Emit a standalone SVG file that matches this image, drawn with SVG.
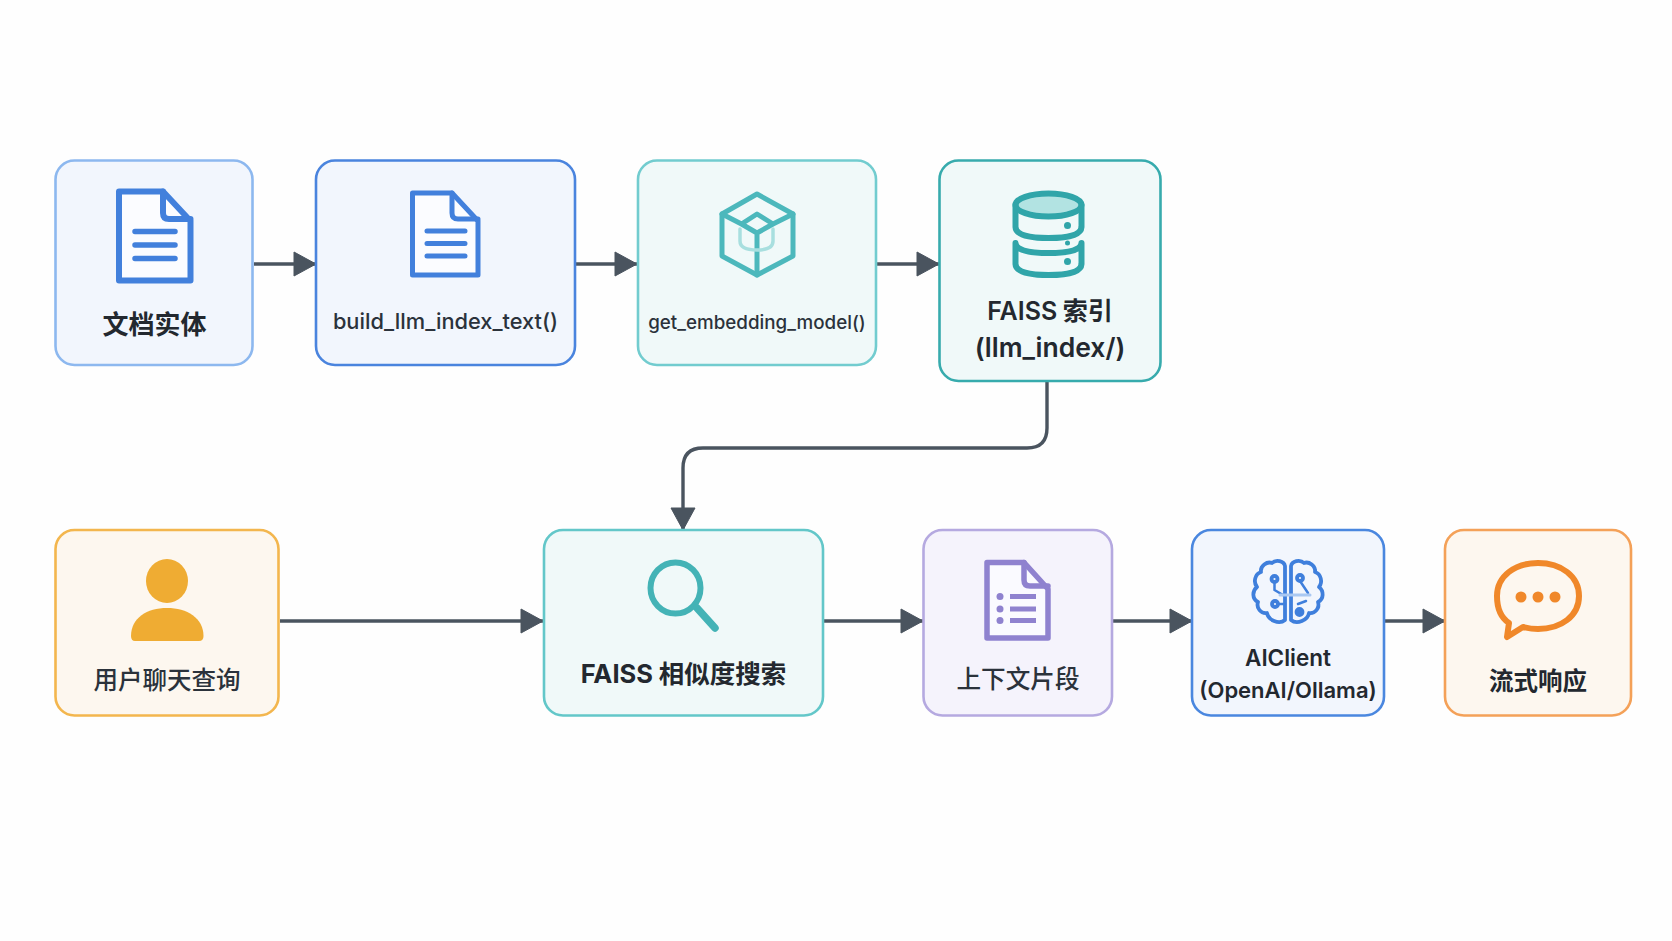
<svg xmlns="http://www.w3.org/2000/svg" width="1672" height="941" viewBox="0 0 1672 941">
<style>
.box{stroke-width:2.6}
.blue{fill:#f2f6fd}.teal{fill:#f0f9f9}.orange{fill:#fdf7ef}.purple{fill:#f5f3fc}
text{font-family:"Inter","Noto Sans CJK SC",sans-serif;text-anchor:middle;fill:#2b323b;font-weight:500}
.s{font-weight:600;fill:#23282f}
.b{font-weight:700;fill:#23282f}
.cj{font-family:"Noto Sans CJK SC",sans-serif}
.lat{font-family:"Inter",sans-serif}
.conn{fill:none;stroke:#4a545f;stroke-width:3.4}
.ico{fill:none;stroke-linejoin:round;stroke-linecap:round}
</style>
<defs>
<marker id="ah" markerUnits="userSpaceOnUse" markerWidth="24" markerHeight="26" viewBox="0 0 24 26" refX="23" refY="13" orient="auto"><path d="M1 1L23 13L1 25Z" fill="#4a545f" stroke="#4a545f" stroke-width="1" stroke-linejoin="round"/></marker>
</defs>
<rect width="1672" height="941" fill="#fefefe"/>
<g id="connectors">
<path class="conn" marker-end="url(#ah)" d="M254 264H316"/>
<path class="conn" marker-end="url(#ah)" d="M576 264H637"/>
<path class="conn" marker-end="url(#ah)" d="M877 264H939"/>
<path class="conn" marker-end="url(#ah)" d="M1047 381V428Q1047 448 1027 448H703Q683 448 683 468V530"/>
<path class="conn" marker-end="url(#ah)" d="M280 621H543"/>
<path class="conn" marker-end="url(#ah)" d="M824 621H923"/>
<path class="conn" marker-end="url(#ah)" d="M1113 621H1192"/>
<path class="conn" marker-end="url(#ah)" d="M1385 621H1445"/>
</g>
<g id="node-doc-entity">
<rect class="box blue" x="55.500" y="160.500" width="197" height="204.500" rx="19" stroke="#8db8ef"/>
<g class="ico" stroke="#4280dc" stroke-width="6">
<path d="M119 191.500H163L190.500 221V280.500H119Z" fill="#fbfcff"/>
<path d="M163 191.500V213Q163 219 169 219H190.500" fill="none"/>
<path stroke-width="5.500" d="M135 231.500H175M135 245H175M135 258.500H175"/>
</g>
<text class="b cj" x="154.500" y="334" font-size="26">文档实体</text>
</g>
<g id="node-build-text">
<rect class="box blue" x="316" y="160.500" width="259" height="204.500" rx="19" stroke="#4a84de"/>
<g class="ico" stroke="#4280dc" stroke-width="5">
<path d="M412.500 193H452L478 221V275H412.500Z" fill="#fbfcff"/>
<path d="M452 193V213Q452 219 458 219H478" fill="none"/>
<path stroke-width="5" d="M427 231H465M427 243.500H465M427 256H465"/>
</g>
<text x="445.500" y="329" font-size="21.800">build_llm_index_text()</text>
</g>
<g id="node-embedding">
<rect class="box teal" x="638" y="160.500" width="238" height="204.500" rx="19" stroke="#72cccf"/>
<g class="ico" stroke="#4cb8bc" stroke-width="5">
<path d="M757 194L793 214V256L757 275L722 256V214Z"/>
<path d="M722 214L741.500 224M793 214L773 224M757 214L773 224L757 233L741.500 224ZM757 233V275"/>
<path stroke="#a8dfdf" stroke-width="3.500" d="M740 229V241Q740 250 757 250Q773 250 773 241V229"/>
</g>
<text x="757" y="329" font-size="18.800">get_embedding_model()</text>
</g>
<g id="node-faiss-index">
<rect class="box teal" x="939.500" y="160.500" width="221" height="220.500" rx="19" stroke="#37abad"/>
<g class="ico" stroke="#30a5a9" stroke-width="6">
<ellipse cx="1048.500" cy="205" rx="33" ry="11.500" fill="#b2e3e2"/>
<path d="M1015.500 205V227Q1016 238 1048.500 238Q1081 238 1081.500 227V205"/>
<path d="M1015.500 243V264Q1016 275 1048.500 275Q1081 275 1081.500 264V243Q1081 253 1048.500 253Q1016 253 1015.500 243Z"/>
</g>
<circle cx="1067.500" cy="225.500" r="3.500" fill="#30a5a9"/>
<circle cx="1067.500" cy="243" r="2.500" fill="#30a5a9"/>
<circle cx="1067.500" cy="261.500" r="3.500" fill="#30a5a9"/>
<text class="s cj" x="1050" y="320" font-size="25"><tspan class="lat">FAISS</tspan> 索引</text>
<text class="s" x="1050" y="357" font-size="26.500">(llm_index/)</text>
</g>
<g id="node-user-query">
<rect class="box orange" x="55.500" y="530" width="223" height="185.500" rx="19" stroke="#f3b64e"/>
<ellipse cx="167" cy="581" rx="21" ry="22" fill="#efac33"/>
<path d="M131 636C131 618 147 608 167 608C187 608 203.500 618 203.500 636Q203.500 641 199 641H135Q131 641 131 636Z" fill="#efac33"/>
<text class="cj" x="167" y="689" font-size="24.500">用户聊天查询</text>
</g>
<g id="node-faiss-search">
<rect class="box teal" x="544" y="530" width="279" height="185.500" rx="19" stroke="#63c7c9"/>
<g class="ico" stroke="#44b3b6">
<ellipse cx="675.500" cy="588" rx="25" ry="25.500" stroke-width="6"/>
<path stroke-width="7.500" d="M697 608L715 628"/>
</g>
<text class="b cj" x="683.500" y="683" font-size="25.500"><tspan class="lat">FAISS</tspan> 相似度搜索</text>
</g>
<g id="node-context">
<rect class="box purple" x="923.500" y="530" width="188.500" height="185.500" rx="19" stroke="#b5a9e0"/>
<g class="ico" stroke="#8f82cf" stroke-width="5.500">
<path d="M987 562.500H1024L1048 589V638H987Z" fill="#fafaff"/>
<path d="M1024 562.500V580Q1024 586 1030 586H1048" fill="none"/>
<path stroke-width="5" d="M1010 596.500H1036M1010 609H1036M1010 620.500H1036" stroke-linecap="butt"/>
</g>
<circle cx="1000" cy="596.500" r="3.500" fill="#8f82cf"/>
<circle cx="1000" cy="609" r="3.500" fill="#8f82cf"/>
<circle cx="1000" cy="620.500" r="3.500" fill="#8f82cf"/>
<text class="cj" x="1018" y="688" font-size="24.600">上下文片段</text>
</g>
<g id="node-aiclient">
<rect class="box blue" x="1192" y="530" width="192" height="185.500" rx="19" stroke="#4a87df"/>
<g class="ico" stroke="#3f7fdc" stroke-width="3.800" transform="translate(1288 560)">
<path d="M-3 60V6C-4 1-12-1-16 3C-21 1-28 6-27 12C-33 14-35 22-31 27C-36 31-36 39-30 42C-32 48-27 54-21 53C-20 60-9 65-3 60Z"/>
<path d="M3 60V6C4 1 12-1 16 3C21 1 28 6 27 12C33 14 35 22 31 27C36 31 36 39 30 42C32 48 27 54 21 53C20 60 9 65 3 60Z"/>
<path stroke-width="2.500" d="M-13.500 22V30L-5 35M-10 44H-3M12 21L20 33M10 44L18 41"/>
<circle cx="-13.500" cy="19" r="3"/><circle cx="-13" cy="44" r="3"/><circle cx="12" cy="18" r="3"/>
<circle cx="11.500" cy="52" r="3" fill="#3f7fdc"/>
<path stroke="#a9c8f2" stroke-width="3" d="M-8 35H22"/>
</g>
<text class="s" x="1288" y="666" font-size="22.500">AIClient</text>
<text class="s" x="1288" y="698" font-size="22">(OpenAI/Ollama)</text>
</g>
<g id="node-stream">
<rect class="box orange" x="1445" y="530" width="186" height="185.500" rx="19" stroke="#f4a158"/>
<path class="ico" stroke="#f0882a" stroke-width="6" d="M1509 623C1500 617 1497 606 1497 596C1497 576 1515 563 1538 563C1561 563 1579 576 1579 596C1579 616 1561 629 1538 629C1532 629 1527 628 1523 627L1507 637Z"/>
<circle cx="1521" cy="597" r="5.500" fill="#f0882a"/>
<circle cx="1538" cy="597" r="5.500" fill="#f0882a"/>
<circle cx="1555" cy="597" r="5.500" fill="#f0882a"/>
<text class="b cj" x="1538" y="690" font-size="24.500">流式响应</text>
</g>
</svg>
